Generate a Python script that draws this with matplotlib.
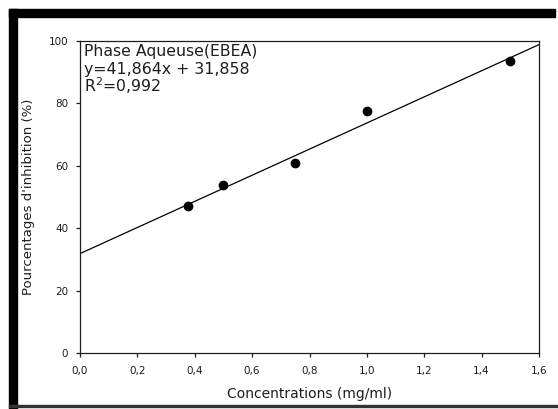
import matplotlib
matplotlib.use("Agg")
import matplotlib.pyplot as plt
import numpy as np
from matplotlib.patches import Rectangle
from matplotlib.transforms import blended_transform_factory, offset_copy

plt.rcParams['font.family'] = ['DejaVu Sans']
plt.rcParams['mathtext.fontset'] = 'dejavusans'

# Measured inhibition at each concentration
concentrations = [0.375, 0.5, 0.75, 1.0, 1.5]
inhibition = [47.1, 53.7, 60.8, 77.6, 93.6]

# Linear fit reported on the chart
slope = 41.864
intercept = 31.858
r_squared = 0.992

x_ticks = [0.0, 0.2, 0.4, 0.6, 0.8, 1.0, 1.2, 1.4, 1.6]
y_ticks = [0, 20, 40, 60, 80, 100]

INK = '#1e1e1e'

W, H = 558, 409
fig = plt.figure(figsize=(W / 100, H / 100), dpi=100)
ax = fig.add_axes([80 / W, 1 - 353 / H, (539 - 80) / W, (353 - 41) / H])

fit_x = np.array([x_ticks[0], x_ticks[-1]])
ax.plot(fit_x, slope * fit_x + intercept, color='black', lw=0.9, zorder=2)
ax.plot(concentrations, inhibition, 'o', color='black', ms=6, zorder=3)

ax.set_xlim(x_ticks[0], x_ticks[-1])
ax.set_ylim(y_ticks[0], y_ticks[-1])
ax.set_xticks(x_ticks)
ax.set_xticklabels([f"{v:.1f}".replace('.', ',') for v in x_ticks])
ax.set_yticks(y_ticks)
ax.set_yticklabels([str(v) for v in y_ticks])
ax.tick_params(direction='out', length=3, width=0.9, labelsize=7.5,
               colors=INK)
ax.tick_params(axis='x', pad=6.5)
ax.tick_params(axis='y', pad=5.5)
for s in ax.spines.values():
    s.set_linewidth(0.9)
    s.set_color(INK)

ax.set_xlabel("Concentrations (mg/ml)", fontsize=10, color=INK, labelpad=8)
ax.set_ylabel("Pourcentages d'inhibition (%)", fontsize=9.5, color=INK, labelpad=10)

eq = f"{slope:.3f}".replace('.', ',')
b = f"{intercept:.3f}".replace('.', ',')
r2 = f"{r_squared:.3f}".replace('.', ',')
legend_lines = ["Phase Aqueuse(EBEA)",
                f"y={eq}x + {b}",
                f"$\\mathregular{{R^2}}$={r2}"]

# Each annotation line sits a fixed number of pixels below the top spine
top_left = blended_transform_factory(ax.transAxes, ax.transAxes)
for i, line in enumerate(legend_lines):
    tr = offset_copy(top_left, fig=fig, x=0, y=-(15 + 18 * i), units='dots')
    ax.text(0.009, 1.0, line, transform=tr, ha='left', va='baseline',
            fontsize=11.3, color=INK)

# Black frame around the figure
def frame_rect(x0, y0, x1, y1, color='black'):
    fig.patches.append(Rectangle((x0 / W, 1 - y1 / H), (x1 - x0) / W, (y1 - y0) / H,
                                 transform=fig.transFigure, color=color, zorder=10))

frame_rect(9, 9, 555, 17)
frame_rect(9, 9, 17, 409)
frame_rect(9, 405, 558, 407, color='#333333')

fig.savefig("out.png", dpi=100, facecolor='white')
